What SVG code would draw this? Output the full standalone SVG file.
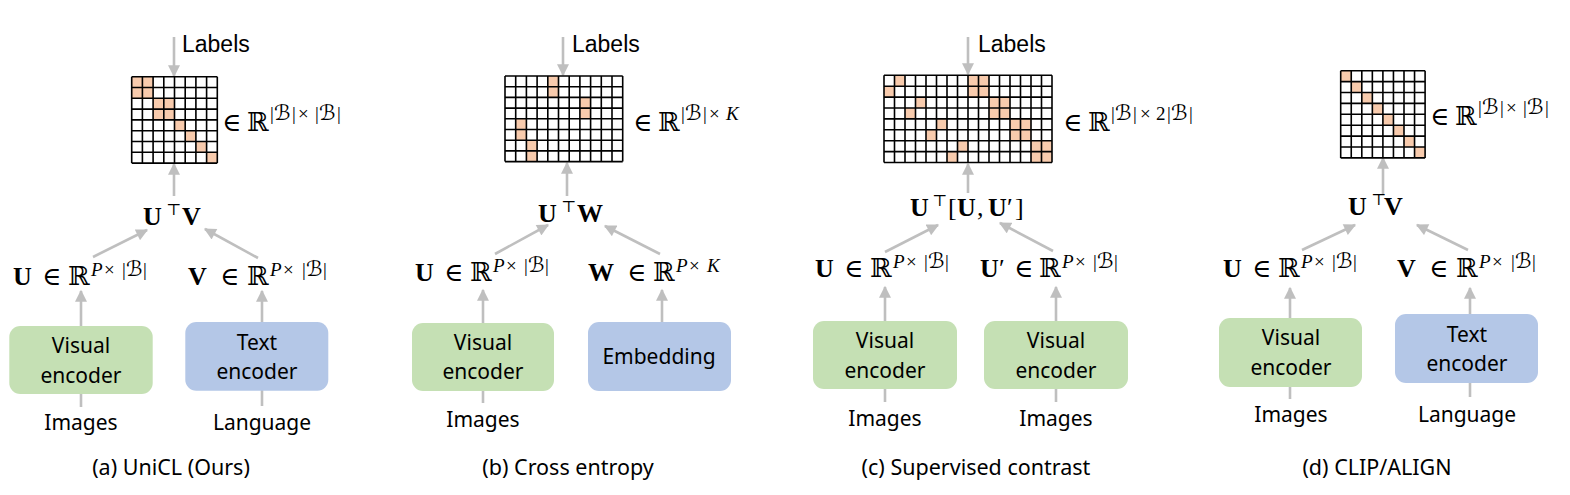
<svg xmlns="http://www.w3.org/2000/svg" width="1570" height="495" viewBox="0 0 1570 495">
<defs>
<marker id="ah" viewBox="0 0 10 10" refX="9" refY="5" markerWidth="5" markerHeight="4.6" orient="auto" markerUnits="strokeWidth">
<path d="M0,0 L10,5 L0,10 z" fill="#BFBFBF"/>
</marker>
</defs>
<style>
.bg{fill:#fff}
.cn{stroke:#BFBFBF;stroke-width:2.6;fill:none}
.arr{marker-end:url(#ah)}
.grid{fill:none;stroke:#000;stroke-width:1.6}
.on{fill:#F8CBAD}
.m{font-family:"Liberation Serif","DejaVu Serif",serif;font-size:26px;fill:#000}
.b{font-weight:bold}
.s{font-family:"DejaVu Serif","DejaVu Sans",serif;font-weight:normal}
.sup{font-size:19px}
.cb{font-family:"DejaVu Serif","DejaVu Sans",serif;font-size:21px}
.t{font-size:16px}
.it{font-style:italic}
.green{fill:#C5E0B4}
.blue{fill:#B4C7E7}
.lbl{font-family:"Noto Sans","Open Sans",sans-serif;font-size:21px;text-anchor:middle;fill:#000}
.lab{font-family:"Liberation Sans",Arial,sans-serif;font-size:23px;fill:#000}
.cap{font-family:"Noto Sans","Open Sans",sans-serif;font-size:21.5px;text-anchor:middle;fill:#000}
</style>
<rect class="bg" x="0" y="0" width="1570" height="495"/>

<!-- Connectors -->
<g id="connectors">
<path class="cn arr" d="M174,37 V76"/>
<path class="cn arr" d="M174,196 V164"/>
<path class="cn arr" d="M93,257 L147,230"/>
<path class="cn arr" d="M258,258 L205,229"/>
<path class="cn arr" d="M81,326 V291"/>
<path class="cn arr" d="M262,322 V291"/>
<path class="cn" d="M81,407 V394"/>
<path class="cn" d="M262,406 V390"/>

<path class="cn arr" d="M563,37 V75"/>
<path class="cn arr" d="M567,196 V163"/>
<path class="cn arr" d="M495,254 L548,225"/>
<path class="cn arr" d="M660,254 L605,226"/>
<path class="cn arr" d="M483,323 V290"/>
<path class="cn arr" d="M662,322 V290"/>
<path class="cn" d="M483,403 V391"/>

<path class="cn arr" d="M968,37 V74"/>
<path class="cn arr" d="M968,193 V164"/>
<path class="cn arr" d="M885,252 L938,225"/>
<path class="cn arr" d="M1053,251 L1000,223"/>
<path class="cn arr" d="M885,321 V287"/>
<path class="cn arr" d="M1056,321 V287"/>
<path class="cn" d="M885,402 V389"/>
<path class="cn" d="M1056,402 V389"/>

<path class="cn arr" d="M1383,195 V158"/>
<path class="cn arr" d="M1302,250 L1355,225"/>
<path class="cn arr" d="M1468,250 L1417,225"/>
<path class="cn arr" d="M1290,318 V288"/>
<path class="cn arr" d="M1470,314 V288"/>
<path class="cn" d="M1290,399 V387"/>
<path class="cn" d="M1470,397 V383"/>
</g>

<!-- Labels texts -->
<g id="labels">
<text class="lab" x="182" y="52">Labels</text>
<text class="lab" x="572" y="52">Labels</text>
<text class="lab" x="978" y="52">Labels</text>
</g>

<!-- Panel (a) -->
<g id="grid-a">
<g transform="translate(131.7,76.7) scale(10.7,10.8)">
<rect class="on" x="0" y="0" width="2" height="2"/>
<rect class="on" x="2" y="2" width="2" height="2"/>
<rect class="on" x="4" y="4" width="1" height="1"/>
<rect class="on" x="5" y="5" width="1" height="1"/>
<rect class="on" x="6" y="6" width="1" height="1"/>
<rect class="on" x="7" y="7" width="1" height="1"/>
<path class="grid" vector-effect="non-scaling-stroke" d="M0,0V8M1,0V8M2,0V8M3,0V8M4,0V8M5,0V8M6,0V8M7,0V8M8,0V8M0,0H8M0,1H8M0,2H8M0,3H8M0,4H8M0,5H8M0,6H8M0,7H8M0,8H8"/>
</g>
<text class="m" transform="translate(222,131)"><tspan class="s" x="0">∈</tspan><tspan class="s" x="25">ℝ</tspan><tspan class="sup" x="48" y="-11">|</tspan><tspan class="cb" x="52">ℬ</tspan><tspan class="sup" x="70">|</tspan><tspan class="sup" x="76">×</tspan><tspan class="sup" x="93">|</tspan><tspan class="cb" x="97">ℬ</tspan><tspan class="sup" x="115">|</tspan></text>
</g>
<g id="prod-a">
<text class="m" transform="translate(143,225)"><tspan class="b" x="0">U</tspan><tspan class="s t" x="23" y="-10">⊤</tspan><tspan class="b" x="39" y="0">V</tspan></text>
</g>
<g id="U-a">
<text class="m" transform="translate(13,285)"><tspan class="b" x="0">U</tspan><tspan class="s" x="29">∈</tspan><tspan class="s" x="55">ℝ</tspan><tspan class="sup it" x="78" y="-9">P</tspan><tspan class="sup" x="91">×</tspan><tspan class="sup" x="109">|</tspan><tspan class="cb" x="113">ℬ</tspan><tspan class="sup" x="130">|</tspan></text>
</g>
<g id="V-a">
<text class="m" transform="translate(188,285)"><tspan class="b" x="0">V</tspan><tspan class="s" x="32">∈</tspan><tspan class="s" x="59">ℝ</tspan><tspan class="sup it" x="82" y="-9">P</tspan><tspan class="sup" x="95">×</tspan><tspan class="sup" x="114">|</tspan><tspan class="cb" x="118">ℬ</tspan><tspan class="sup" x="135">|</tspan></text>
</g>
<g id="visual-a">
<rect class="green" x="9.3" y="326" width="143.4" height="68" rx="11"/>
<text class="lbl" x="81" y="353">Visual</text>
<text class="lbl" x="81" y="383">encoder</text>
</g>
<g id="text-a">
<rect class="blue" x="185.3" y="322" width="143" height="68.7" rx="11"/>
<text class="lbl" x="257" y="350">Text</text>
<text class="lbl" x="257" y="379">encoder</text>
</g>
<text class="lbl" x="81" y="430">Images</text>
<text class="lbl" x="262" y="430">Language</text>
<text class="cap" x="171" y="475">(a) UniCL (Ours)</text>

<!-- Panel (b) -->
<g id="grid-b">
<g transform="translate(505,76) scale(10.7,10.7)">
<rect class="on" x="4" y="0" width="1" height="2"/>
<rect class="on" x="7" y="2" width="1" height="2"/>
<rect class="on" x="1" y="4" width="1" height="2"/>
<rect class="on" x="2" y="6" width="1" height="2"/>
<path class="grid" vector-effect="non-scaling-stroke" d="M0,0V8M1,0V8M2,0V8M3,0V8M4,0V8M5,0V8M6,0V8M7,0V8M8,0V8M9,0V8M10,0V8M11,0V8M0,0H11M0,1H11M0,2H11M0,3H11M0,4H11M0,5H11M0,6H11M0,7H11M0,8H11"/>
</g>
<text class="m" transform="translate(633,131)"><tspan class="s" x="0">∈</tspan><tspan class="s" x="25">ℝ</tspan><tspan class="sup" x="48" y="-11">|</tspan><tspan class="cb" x="52">ℬ</tspan><tspan class="sup" x="70">|</tspan><tspan class="sup" x="76">×</tspan><tspan class="sup it" x="93">K</tspan></text>
</g>
<g id="prod-b">
<text class="m" transform="translate(538,222)"><tspan class="b" x="0">U</tspan><tspan class="s t" x="23" y="-10">⊤</tspan><tspan class="b" x="39" y="0">W</tspan></text>
</g>
<g id="U-b">
<text class="m" transform="translate(415,281)"><tspan class="b" x="0">U</tspan><tspan class="s" x="29">∈</tspan><tspan class="s" x="55">ℝ</tspan><tspan class="sup it" x="78" y="-9">P</tspan><tspan class="sup" x="91">×</tspan><tspan class="sup" x="109">|</tspan><tspan class="cb" x="113">ℬ</tspan><tspan class="sup" x="130">|</tspan></text>
</g>
<g id="W-b">
<text class="m" transform="translate(588,281)"><tspan class="b" x="0">W</tspan><tspan class="s" x="39">∈</tspan><tspan class="s" x="65">ℝ</tspan><tspan class="sup it" x="88" y="-9">P</tspan><tspan class="sup" x="101">×</tspan><tspan class="sup it" x="119">K</tspan></text>
</g>
<g id="visual-b">
<rect class="green" x="412" y="323" width="142" height="68" rx="11"/>
<text class="lbl" x="483" y="350">Visual</text>
<text class="lbl" x="483" y="379">encoder</text>
</g>
<g id="embedding-b">
<rect class="blue" x="588" y="322" width="143" height="69" rx="11"/>
<text class="lbl" x="659" y="364">Embedding</text>
</g>
<text class="lbl" x="483" y="427">Images</text>
<text class="cap" x="568" y="475">(b) Cross entropy</text>

<!-- Panel (c) -->
<g id="grid-c">
<g transform="translate(884,75.3) scale(10.5,10.9)">
<rect class="on" x="1" y="0" width="1" height="1"/>
<rect class="on" x="0" y="1" width="1" height="1"/>
<rect class="on" x="3" y="2" width="1" height="1"/>
<rect class="on" x="2" y="3" width="1" height="1"/>
<rect class="on" x="5" y="4" width="1" height="1"/>
<rect class="on" x="4" y="5" width="1" height="1"/>
<rect class="on" x="7" y="6" width="1" height="1"/>
<rect class="on" x="6" y="7" width="1" height="1"/>
<rect class="on" x="8" y="0" width="2" height="2"/>
<rect class="on" x="10" y="2" width="2" height="2"/>
<rect class="on" x="12" y="4" width="2" height="2"/>
<rect class="on" x="14" y="6" width="2" height="2"/>
<path class="grid" vector-effect="non-scaling-stroke" d="M0,0V8M1,0V8M2,0V8M3,0V8M4,0V8M5,0V8M6,0V8M7,0V8M8,0V8M9,0V8M10,0V8M11,0V8M12,0V8M13,0V8M14,0V8M15,0V8M16,0V8M0,0H16M0,1H16M0,2H16M0,3H16M0,4H16M0,5H16M0,6H16M0,7H16M0,8H16"/>
</g>
<text class="m" transform="translate(1063,131)"><tspan class="s" x="0">∈</tspan><tspan class="s" x="25">ℝ</tspan><tspan class="sup" x="48" y="-11">|</tspan><tspan class="cb" x="52">ℬ</tspan><tspan class="sup" x="70">|</tspan><tspan class="sup" x="77">×</tspan><tspan class="sup" x="93">2</tspan><tspan class="sup" x="104">|</tspan><tspan class="cb" x="108">ℬ</tspan><tspan class="sup" x="126">|</tspan></text>
</g>
<g id="prod-c">
<text class="m" transform="translate(910,216)"><tspan class="b" x="0">U</tspan><tspan class="s t" x="22" y="-10">⊤</tspan><tspan x="38" y="0">[</tspan><tspan class="b" x="47">U</tspan><tspan x="67">,</tspan><tspan class="b" x="78">U</tspan><tspan x="97">′</tspan><tspan x="105">]</tspan></text>
</g>
<g id="U-c">
<text class="m" transform="translate(815,277)"><tspan class="b" x="0">U</tspan><tspan class="s" x="29">∈</tspan><tspan class="s" x="55">ℝ</tspan><tspan class="sup it" x="78" y="-9">P</tspan><tspan class="sup" x="91">×</tspan><tspan class="sup" x="109">|</tspan><tspan class="cb" x="113">ℬ</tspan><tspan class="sup" x="130">|</tspan></text>
</g>
<g id="U2-c">
<text class="m" transform="translate(980,277)"><tspan class="b" x="0">U</tspan><tspan x="19">′</tspan><tspan class="s" x="34">∈</tspan><tspan class="s" x="59">ℝ</tspan><tspan class="sup it" x="82" y="-9">P</tspan><tspan class="sup" x="95">×</tspan><tspan class="sup" x="113">|</tspan><tspan class="cb" x="117">ℬ</tspan><tspan class="sup" x="134">|</tspan></text>
</g>
<g id="visual-c1">
<rect class="green" x="813" y="321" width="144" height="68" rx="11"/>
<text class="lbl" x="885" y="348">Visual</text>
<text class="lbl" x="885" y="378">encoder</text>
</g>
<g id="visual-c2">
<rect class="green" x="984" y="321" width="144" height="68" rx="11"/>
<text class="lbl" x="1056" y="348">Visual</text>
<text class="lbl" x="1056" y="378">encoder</text>
</g>
<text class="lbl" x="885" y="426">Images</text>
<text class="lbl" x="1056" y="426">Images</text>
<text class="cap" x="976" y="475">(c) Supervised contrast</text>

<!-- Panel (d) -->
<g id="grid-d">
<g transform="translate(1340.7,70.7) scale(10.55,10.9)">
<rect class="on" x="0" y="0" width="1" height="1"/>
<rect class="on" x="1" y="1" width="1" height="1"/>
<rect class="on" x="2" y="2" width="1" height="1"/>
<rect class="on" x="3" y="3" width="1" height="1"/>
<rect class="on" x="4" y="4" width="1" height="1"/>
<rect class="on" x="5" y="5" width="1" height="1"/>
<rect class="on" x="6" y="6" width="1" height="1"/>
<rect class="on" x="7" y="7" width="1" height="1"/>
<path class="grid" vector-effect="non-scaling-stroke" d="M0,0V8M1,0V8M2,0V8M3,0V8M4,0V8M5,0V8M6,0V8M7,0V8M8,0V8M0,0H8M0,1H8M0,2H8M0,3H8M0,4H8M0,5H8M0,6H8M0,7H8M0,8H8"/>
</g>
<text class="m" transform="translate(1430,125)"><tspan class="s" x="0">∈</tspan><tspan class="s" x="25">ℝ</tspan><tspan class="sup" x="48" y="-11">|</tspan><tspan class="cb" x="52">ℬ</tspan><tspan class="sup" x="70">|</tspan><tspan class="sup" x="76">×</tspan><tspan class="sup" x="93">|</tspan><tspan class="cb" x="97">ℬ</tspan><tspan class="sup" x="115">|</tspan></text>
</g>
<g id="prod-d">
<text class="m" transform="translate(1348,215)"><tspan class="b" x="0">U</tspan><tspan class="s t" x="23" y="-10">⊤</tspan><tspan class="b" x="36" y="0">V</tspan></text>
</g>
<g id="U-d">
<text class="m" transform="translate(1223,277)"><tspan class="b" x="0">U</tspan><tspan class="s" x="29">∈</tspan><tspan class="s" x="55">ℝ</tspan><tspan class="sup it" x="78" y="-9">P</tspan><tspan class="sup" x="91">×</tspan><tspan class="sup" x="109">|</tspan><tspan class="cb" x="113">ℬ</tspan><tspan class="sup" x="130">|</tspan></text>
</g>
<g id="V-d">
<text class="m" transform="translate(1397,277)"><tspan class="b" x="0">V</tspan><tspan class="s" x="32">∈</tspan><tspan class="s" x="59">ℝ</tspan><tspan class="sup it" x="82" y="-9">P</tspan><tspan class="sup" x="95">×</tspan><tspan class="sup" x="114">|</tspan><tspan class="cb" x="118">ℬ</tspan><tspan class="sup" x="135">|</tspan></text>
</g>
<g id="visual-d">
<rect class="green" x="1219" y="318" width="143" height="69" rx="11"/>
<text class="lbl" x="1291" y="345">Visual</text>
<text class="lbl" x="1291" y="375">encoder</text>
</g>
<g id="text-d">
<rect class="blue" x="1395" y="314" width="143" height="69" rx="11"/>
<text class="lbl" x="1467" y="342">Text</text>
<text class="lbl" x="1467" y="371">encoder</text>
</g>
<text class="lbl" x="1291" y="422">Images</text>
<text class="lbl" x="1467" y="422">Language</text>
<text class="cap" x="1377" y="475">(d) CLIP/ALIGN</text>
</svg>
